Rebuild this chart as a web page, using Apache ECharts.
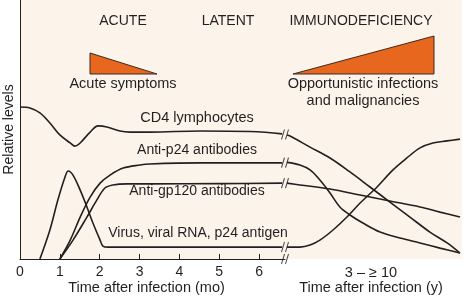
<!DOCTYPE html>
<html>
<head>
<meta charset="utf-8">
<script src="https://cdn.jsdelivr.net/npm/echarts@6/dist/echarts.min.js"></script>
<style>
html,body{margin:0;padding:0;background:#fff;}
#chart{width:467px;height:296px;}
</style>
</head>
<body>
<div id="chart"></div>
<script>
// ---- data (x: months on left panel, years on right panel; y: relative level 0-100) ----
var monthTicks = [0, 1, 2, 3, 4, 5, 6];
var yearLabel = '3 – ≥ 10';
var phaseLabels = ['ACUTE', 'LATENT', 'IMMUNODEFICIENCY'];
var seriesNames = ['CD4 lymphocytes', 'Anti-p24 antibodies', 'Anti-gp120 antibodies', 'Virus, viral RNA, p24 antigen'];

var cd4Months = [[0,58.7],[0.25,58.3],[0.5,56.4],[0.75,52.5],[1.0,47.9],[1.26,44.8],[1.38,43.6],[1.51,44.8],[1.76,49.0],[1.96,51.4],[2.18,51.0],[2.51,49.4],[2.76,49.0],[3.26,49.0],[4.52,49.4],[5.77,49.2],[6.58,48.3]];
var p24Months = [[1.0,0],[1.26,7.3],[1.51,16.2],[1.76,23.9],[2.01,29.3],[2.26,32.4],[2.59,35.1],[3.01,36.3],[3.26,36.7],[4.52,37.1],[5.77,37.1],[6.58,37.1]];
var gp120Months = [[1.0,0],[1.33,7.3],[1.68,16.2],[1.93,22.8],[2.13,27.4],[2.33,28.6],[2.69,29.0],[3.26,29.0],[5.0,29.1],[6.58,29.3]];
var virusMonths = [[0.5,0],[0.75,11.2],[0.95,22.8],[1.13,31.7],[1.21,34.0],[1.33,32.4],[1.51,26.6],[1.68,20.1],[1.83,13.9],[2.01,7.3],[2.08,5.0],[2.21,4.6],[3.26,4.6],[6.58,4.6]];

var cd4Years = [[3.08,47.9],[3.2,47.5],[3.99,43.2],[4.78,39.0],[5.57,33.6],[6.36,27.8],[7.15,22.0],[7.94,16.2],[8.73,10.4],[9.41,6.2],[9.92,2.3]];
var p24Years = [[3.08,37.3],[3.59,36.3],[3.99,34.4],[4.38,30.5],[4.78,25.5],[5.17,20.1],[5.57,17.0],[6.08,13.9],[6.76,10.4],[7.55,8.1],[8.34,6.2],[9.13,4.2],[9.92,2.3]];
var gp120Years = [[3.08,29.3],[3.59,28.6],[4.78,27.0],[5.97,24.7],[7.15,22.4],[8.34,20.1],[9.13,18.1],[9.92,16.2]];
var virusYears = [[3.08,4.6],[3.59,4.6],[3.99,5.4],[4.38,7.3],[4.9,11.2],[5.45,16.2],[5.97,21.6],[6.64,27.8],[7.27,34.4],[7.82,39.0],[8.34,42.9],[8.85,44.8],[9.41,45.6],[9.92,46.3]];

var BREAK_MONTH = 6.65;

// ---- styles ----
var INK = '#231f20';
var BG = '#fcf3ea';
var ORANGE = '#e8671f';
var FONT = '"Liberation Sans", Arial, Helvetica, sans-serif';

var leftSets = [cd4Months, p24Months, gp120Months, virusMonths];
var rightSets = [cd4Years, p24Years, gp120Years, virusYears];

function lineSeries(data, gi, name) {
  return {
    type: 'line', name: name, xAxisIndex: gi, yAxisIndex: gi,
    data: data, smooth: 0.35, showSymbol: false, symbol: 'none',
    lineStyle: { color: INK, width: 1.6 }, silent: true
  };
}

var series = [];
leftSets.forEach(function (d, i) { series.push(lineSeries(d, 0, seriesNames[i])); });
rightSets.forEach(function (d, i) { series.push(lineSeries(d, 1, seriesNames[i])); });

// break marks: at the break, at each line's level and on the axis
var breakData = leftSets.map(function (d, i) {
  return [BREAK_MONTH, (d[d.length - 1][1] + rightSets[i][0][1]) / 2];
});
breakData.push([BREAK_MONTH, 0]);
series.push({
  type: 'scatter', xAxisIndex: 0, yAxisIndex: 0, clip: false, silent: true,
  data: breakData,
  symbol: 'path://M0,10 L3,0 M4,10 L7,0',
  symbolSize: [7, 10],
  itemStyle: { color: 'rgba(0,0,0,0)', borderColor: INK, borderWidth: 1.2 },
  z: 5
});

function txt(text, x, y, size) {
  return {
    type: 'text', x: x, y: y, silent: true,
    style: {
      text: text, fill: INK, font: (size || 14) + 'px ' + FONT,
      textAlign: 'center', textVerticalAlign: 'middle', verticalAlign: 'middle'
    }
  };
}

var chart = echarts.init(document.getElementById('chart'), null, { renderer: 'canvas' });
chart.setOption({
  animation: false,
  backgroundColor: '#ffffff',
  grid: [
    { left: 20, right: 182, top: 0, bottom: 37, show: true, backgroundColor: BG, borderWidth: 0,
      containLabel: false, outerBoundsMode: 'none' },
    { left: 285, right: 5, top: 0, bottom: 37, show: true, backgroundColor: BG, borderWidth: 0,
      containLabel: false, outerBoundsMode: 'none' }
  ],
  xAxis: [
    {
      type: 'value', gridIndex: 0, min: 0, max: BREAK_MONTH, interval: 1,
      axisLine: { show: true, lineStyle: { color: INK, width: 1 } },
      axisTick: { show: true, inside: true, length: 5, lineStyle: { color: INK, width: 1 },
        customValues: monthTicks.slice(1) },
      axisLabel: { show: true, color: INK, fontSize: 14, fontFamily: FONT, margin: 6,
        customValues: monthTicks, formatter: function (v) { return String(v); } },
      splitLine: { show: false },
      name: 'Time after infection (mo)', nameLocation: 'middle', nameGap: 21, nameMoveOverlap: false,
      nameTextStyle: { color: INK, fontSize: 14.5, fontFamily: FONT, padding: [0, 12, 0, 0] }
    },
    {
      type: 'value', gridIndex: 1, min: 3, max: 10,
      axisLine: { show: false }, axisTick: { show: false }, axisLabel: { show: false },
      splitLine: { show: false },
      name: yearLabel + '\nTime after infection (y)', nameLocation: 'middle', nameGap: 6,
      nameTextStyle: { color: INK, fontSize: 14.5, fontFamily: FONT, lineHeight: 15, padding: [0, 5, 0, 0] }
    }
  ],
  yAxis: [
    {
      type: 'value', gridIndex: 0, min: 0, max: 100,
      axisLine: { show: true, lineStyle: { color: INK, width: 1 } },
      axisTick: { show: false }, axisLabel: { show: false }, splitLine: { show: false },
      name: 'Relative levels', nameLocation: 'middle', nameRotate: 90, nameGap: 4,
      nameTextStyle: { color: INK, fontSize: 14, fontFamily: FONT }
    },
    {
      type: 'value', gridIndex: 1, min: 0, max: 100, show: false
    }
  ],
  series: series,
  graphic: [
    txt(phaseLabels[0], 123, 21),
    txt(phaseLabels[1], 228, 21),
    txt(phaseLabels[2], 361, 21),
    { type: 'polygon', silent: true, shape: { points: [[90, 53], [90, 74], [157, 74]] },
      style: { fill: ORANGE, stroke: '#3b2a22', lineWidth: 1 } },
    { type: 'polygon', silent: true, shape: { points: [[293, 74], [434, 36], [434, 74]] },
      style: { fill: ORANGE, stroke: '#3b2a22', lineWidth: 1 } },
    txt('Acute symptoms', 123, 84, 14.5),
    txt('Opportunistic infections', 363, 84, 14.5),
    txt('and malignancies', 363, 101, 14.5),
    txt(seriesNames[0], 197, 118, 14.5),
    txt(seriesNames[1], 197, 150, 14),
    txt(seriesNames[2], 197, 191, 14),
    txt(seriesNames[3], 198, 233, 14)
  ]
});
</script>
</body>
</html>
